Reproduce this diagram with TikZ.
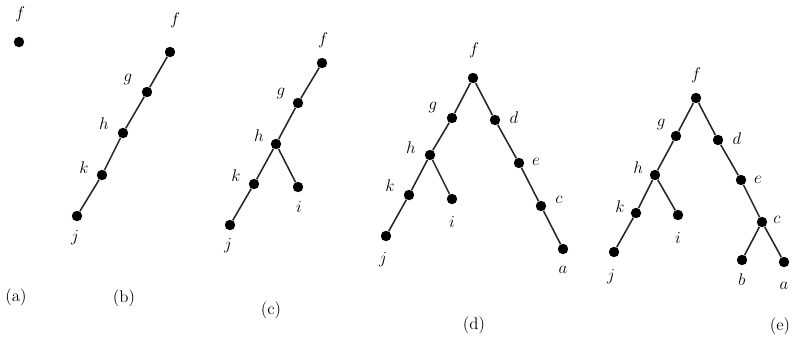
\documentclass[tikz,border=0pt]{standalone}
\usepackage{tikz}
\tikzset{
  vtx/.style  = {circle, fill=black, inner sep=0pt, minimum size=2.6mm},
  lbl/.style  = {font=\large, inner sep=0pt},
  capt/.style = {font=\large, inner sep=0pt},
  edge/.style = {line width=1.1pt, draw=black!85},
}

\begin{document}
\begin{tikzpicture}[x=0.025cm, y=-0.025cm]
  \useasboundingbox (0,0) rectangle (802,338);

  % (a) single vertex
  \node[vtx] (af) at (19,42) {};
  \node[lbl] (afl) at (20,14) {$f$};
  \node[capt] (acap) at (16,297) {(a)};

  % (b) path f-g-h-k-j
  \node[vtx] (bf) at (170,52) {};
  \node[vtx] (bg) at (147,92) {};
  \node[vtx] (bh) at (123,133) {};
  \node[vtx] (bk) at (102,175) {};
  \node[vtx] (bj) at (77,216) {};
  \draw[edge] (bf) -- (bg) -- (bh) -- (bk) -- (bj);
  \node[lbl] (bfl) at (175,20) {$f$};
  \node[lbl] (bgl) at (128,80) {$g$};
  \node[lbl] (bhl) at (104,124) {$h$};
  \node[lbl] (bkl) at (84,168) {$k$};
  \node[lbl] (bjl) at (75,238) {$j$};
  \node[capt] (bcap) at (124,298) {(b)};

  % (c) add i below h
  \node[vtx] (cf) at (322,63) {};
  \node[vtx] (cg) at (298,103) {};
  \node[vtx] (ch) at (276,144) {};
  \node[vtx] (ck) at (254,184) {};
  \node[vtx] (cj) at (230,225) {};
  \node[vtx] (ci) at (298,187) {};
  \draw[edge] (cf) -- (cg) -- (ch) -- (ck) -- (cj);
  \draw[edge] (ch) -- (ci);
  \node[lbl] (cfl) at (323,40) {$f$};
  \node[lbl] (cgl) at (281,94) {$g$};
  \node[lbl] (chl) at (259,136) {$h$};
  \node[lbl] (ckl) at (236,176) {$k$};
  \node[lbl] (cjl) at (228,246) {$j$};
  \node[lbl] (cil) at (299,207) {$i$};
  \node[capt] (ccap) at (271,310) {(c)};

  % (d) right branch d-e-c-a
  \node[vtx] (df) at (473,78) {};
  \node[vtx] (dg) at (452,118) {};
  \node[vtx] (dh) at (430,155) {};
  \node[vtx] (dk) at (409,195) {};
  \node[vtx] (dj) at (386,236) {};
  \node[vtx] (di) at (452,199) {};
  \node[vtx] (dd) at (495,120) {};
  \node[vtx] (de) at (519,163) {};
  \node[vtx] (dc) at (541,206) {};
  \node[vtx] (da) at (563,249) {};
  \draw[edge] (df) -- (dg) -- (dh) -- (dk) -- (dj);
  \draw[edge] (dh) -- (di);
  \draw[edge] (df) -- (dd) -- (de) -- (dc) -- (da);
  \node[lbl] (dfl) at (474,50) {$f$};
  \node[lbl] (dgl) at (433,108) {$g$};
  \node[lbl] (dhl) at (411,148) {$h$};
  \node[lbl] (dkl) at (390,186) {$k$};
  \node[lbl] (djl) at (383,260) {$j$};
  \node[lbl] (dil) at (452,222) {$i$};
  \node[lbl] (ddl) at (514,118) {$d$};
  \node[lbl] (del) at (536,162) {$e$};
  \node[lbl] (dcl) at (559,200) {$c$};
  \node[lbl] (dal) at (563,270) {$a$};
  \node[capt] (dcap) at (474,325) {(d)};

  % (e) add b below c
  \node[vtx] (ef) at (696,98) {};
  \node[vtx] (eg) at (676,136) {};
  \node[vtx] (eh) at (655,175) {};
  \node[vtx] (ek) at (636,213) {};
  \node[vtx] (ej) at (614,252) {};
  \node[vtx] (ei) at (678,215) {};
  \node[vtx] (ed) at (718,140) {};
  \node[vtx] (ee) at (741,180) {};
  \node[vtx] (ec) at (762,222) {};
  \node[vtx] (eb) at (742,260) {};
  \node[vtx] (ea) at (784,262) {};
  \draw[edge] (ef) -- (eg) -- (eh) -- (ek) -- (ej);
  \draw[edge] (eh) -- (ei);
  \draw[edge] (ef) -- (ed) -- (ee) -- (ec) -- (ea);
  \draw[edge] (ec) -- (eb);
  \node[lbl] (efl) at (696,75) {$f$};
  \node[lbl] (egl) at (661,125) {$g$};
  \node[lbl] (ehl) at (638,168) {$h$};
  \node[lbl] (ekl) at (620,207) {$k$};
  \node[lbl] (ejl) at (611,277) {$j$};
  \node[lbl] (eil) at (678,238) {$i$};
  \node[lbl] (edl) at (737,139) {$d$};
  \node[lbl] (eel) at (758,180) {$e$};
  \node[lbl] (ecl) at (777,220) {$c$};
  \node[lbl] (ebl) at (742,280) {$b$};
  \node[lbl] (eal) at (784,286) {$a$};
  \node[capt] (ecap) at (780,326) {(e)};
\end{tikzpicture}
\end{document}
